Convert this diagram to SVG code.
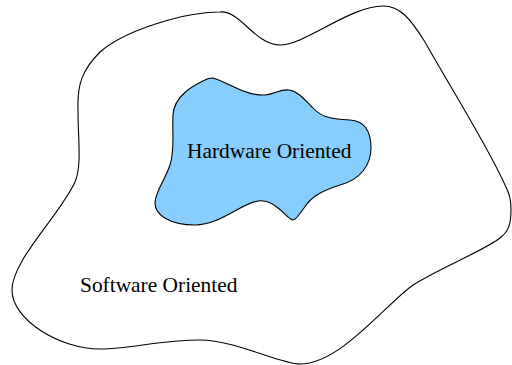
<svg xmlns="http://www.w3.org/2000/svg" width="512" height="365" viewBox="0 0 512 365">
<style>
.shape{stroke:#000;stroke-width:1.1;stroke-linejoin:round}
.lbl{font-family:"Liberation Serif","Times New Roman",serif;font-size:21.4px;fill:#000}
</style>
<rect width="512" height="365" fill="#fff"/>
<g id="software">
<path class="shape" fill="#fff" d="M220,12 C240,10 255,45 280,45 C305,45 350,6 383,6 C400,6 410,18 425,42 C445,78 490,150 505,185 C510,195 511,200 511,210 C511,225 508,232 500,238 C485,250 440,268 413,285 C385,305 340,364 300,364 C280,364 235,340 200,340 C160,340 130,349 100,349 C60,349 12,320 12,290 C12,260 60,215 75,182 C82,165 78,140 78,110 C77,85 82,70 100,52 C125,30 185,12 220,12 Z"/>
<text class="lbl" x="80" y="292">Software Oriented</text>
</g>
<g id="hardware">
<path class="shape" fill="#87ceff" d="M213,78 C228,82 245,96 265,95 C275,94 280,89 289,90 C298,91 305,100 312,107 C320,116 328,119 350,120 C365,121 371,132 371,148 C371,165 360,180 340,185 C325,190 312,195 304,208 C298,216 296,220 293,220 C289,220 285,213 278,208 C272,203 265,200 258,201 C240,204 220,225 195,225 C170,225 155,215 155,203 C155,192 165,180 170,165 C175,150 172,135 173,115 C174,95 195,85 205,80 C208,78 210,78 213,78 Z"/>
<text class="lbl" x="187" y="158">Hardware Oriented</text>
</g>
</svg>
